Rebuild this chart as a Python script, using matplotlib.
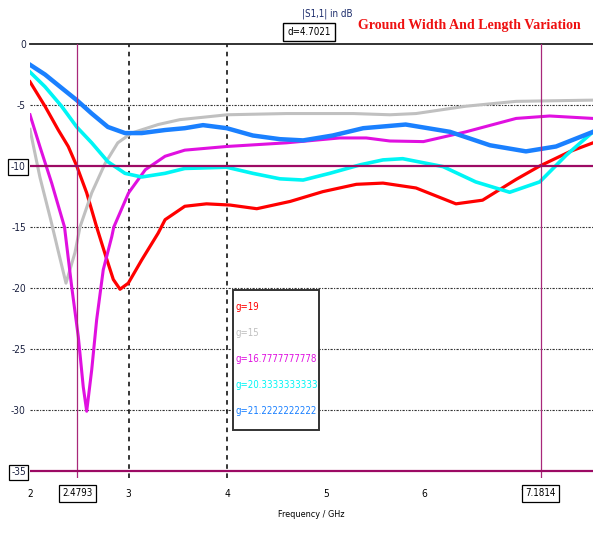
import matplotlib
matplotlib.use("Agg")
import matplotlib.pyplot as plt
from matplotlib.patches import Rectangle

# |S1,1| in dB vs frequency (GHz)
f_g19 = [2.0, 2.152, 2.287, 2.388, 2.474, 2.575, 2.676, 2.761, 2.845, 2.913, 2.997,
         3.133, 3.30, 3.37, 3.57, 3.79, 4.03, 4.30, 4.64, 4.97, 5.31, 5.58, 5.915,
         6.32, 6.59, 6.93, 7.17, 7.48, 7.71]
s_g19 = [-3.1, -5.1, -7.05, -8.4, -10.0, -12.2, -15.0, -17.2, -19.3, -20.1, -19.6,
         -17.7, -15.5, -14.4, -13.3, -13.1, -13.2, -13.5, -12.9, -12.1, -11.5, -11.4, -11.8,
         -13.1, -12.8, -11.1, -10.0, -8.8, -8.1]

f_g15 = [2.0, 2.10, 2.21, 2.29, 2.365, 2.456, 2.507, 2.626, 2.761, 2.89, 3.03, 3.30,
         3.52, 4.0, 4.60, 5.28, 5.65, 5.915, 6.42, 6.93, 7.71]
s_g15 = [-7.0, -10.9, -14.4, -17.1, -19.6, -17.1, -15.0, -12.2, -9.8, -8.1, -7.3, -6.6,
         -6.2, -5.8, -5.7, -5.7, -5.8, -5.7, -5.1, -4.7, -4.6]

f_g16 = [2.0, 2.10, 2.22, 2.35, 2.423, 2.49, 2.54, 2.575, 2.626, 2.676, 2.743, 2.829,
         2.85, 3.0, 3.17, 3.37, 3.57, 3.995, 4.60, 5.14, 5.41, 5.65, 5.99, 6.42, 6.93,
         7.27, 7.71]
s_g16 = [-5.8, -8.4, -11.4, -15.0, -19.9, -24.0, -28.1, -30.1, -26.7, -22.6, -18.5, -15.8,
         -15.0, -12.2, -10.3, -9.2, -8.7, -8.4, -8.1, -7.7, -7.7, -7.95, -8.0, -7.2, -6.1,
         -5.9, -6.1]

f_g20 = [2.0, 2.152, 2.32, 2.474, 2.626, 2.79, 2.963, 3.133, 3.37, 3.57, 3.995, 4.26,
         4.535, 4.77, 5.04, 5.35, 5.58, 5.78, 6.19, 6.52, 6.865, 7.17, 7.44, 7.71]
s_g20 = [-2.3, -3.5, -5.1, -6.8, -8.1, -9.65, -10.6, -10.9, -10.6, -10.2, -10.1, -10.6,
         -11.05, -11.15, -10.6, -9.9, -9.5, -9.4, -10.05, -11.3, -12.15, -11.3, -9.1, -7.2]

f_g21 = [2.0, 2.152, 2.32, 2.474, 2.626, 2.79, 2.963, 3.133, 3.37, 3.57, 3.755, 3.995,
         4.26, 4.535, 4.77, 5.07, 5.38, 5.81, 6.26, 6.665, 7.03, 7.335, 7.71]
s_g21 = [-1.7, -2.5, -3.6, -4.6, -5.7, -6.8, -7.3, -7.3, -7.05, -6.9, -6.65, -6.9,
         -7.5, -7.8, -7.9, -7.5, -6.9, -6.6, -7.2, -8.3, -8.8, -8.4, -7.2]

labels = ["g=19", "g=15", "g=16.7777777778", "g=20.3333333333", "g=21.2222222222"]
colors = ["#ff0000", "#c0c0c0", "#e010e0", "#00f5f5", "#1a80ff"]
widths = [2.3, 2.2, 2.2, 2.6, 3.2]

y_ticks = [0, -5, -10, -15, -20, -25, -30, -35]
x_ticks = [2, 3, 4, 5, 6, 7]
marker_x = [2.4793, 7.1814]
marker_y = [-10, -35]

FONT = dict(family="DejaVu Sans", stretch="condensed")
PURPLE = "#9c0a64"

fig = plt.figure(figsize=(5.93, 5.33), dpi=100)
W, H = 593, 533
ax = fig.add_axes([30 / W, 1 - 478 / H, 563 / W, 434 / H])
ax.set_xlim(2, 7.71)
ax.set_ylim(-35.57, 0)

for sp in ("left", "right", "bottom"):
    ax.spines[sp].set_visible(False)
ax.spines["top"].set_linewidth(1.3)
ax.spines["top"].set_color("#222222")

# grid: fine dotted horizontals, dashed verticals at 3 and 4 GHz
for yv in [-5, -15, -20, -25, -30]:
    ax.axhline(yv, color="#333333", lw=0.8, ls=(0, (2, 1.2, 1, 1.2)), zorder=1)
for xv in [3, 4]:
    ax.axvline(xv, color="black", lw=1.1, ls=(0, (3, 3)), zorder=1)

series = [(f_g19, s_g19), (f_g15, s_g15), (f_g16, s_g16), (f_g20, s_g20), (f_g21, s_g21)]
for (fx, sy), c, w in zip(series, colors, widths):
    ax.plot(fx, sy, color=c, lw=w, solid_joinstyle="round", zorder=3)

# markers
for mx in marker_x:
    ax.axvline(mx, color="#a8287a", lw=0.9, zorder=4)
for my in marker_y:
    ax.axhline(my, color=PURPLE, lw=1.6, zorder=5)

ax.set_yticks(y_ticks)
ax.set_yticklabels([str(v) for v in y_ticks], fontsize=7.3, color="#1a2040", **FONT)
ax.set_xticks(x_ticks)
ax.set_xticklabels([str(v) for v in x_ticks], fontsize=7.3, **FONT)
ax.tick_params(axis="y", length=0, pad=3)
ax.tick_params(axis="x", length=0, pad=8)
for t, v in zip(ax.get_yticklabels(), y_ticks):
    if v in marker_y:
        t.set_bbox(dict(boxstyle="square,pad=0.25", fc="white", ec="black", lw=0.9))

for mx in marker_x:
    ax.text(mx, -0.035, f"{mx:.4f}", transform=ax.get_xaxis_transform(),
            ha="center", va="center", fontsize=7, zorder=6,
            bbox=dict(boxstyle="square,pad=0.35", fc="white", ec="black", lw=0.9), **FONT)

ax.set_xlabel("Frequency / GHz", fontsize=6.5, labelpad=8, **FONT)

# legend box
fig.patches.append(Rectangle((233 / W, 1 - 430 / H), 86 / W, 140 / H,
                             transform=fig.transFigure, fill=True, fc="white",
                             ec="#333333", lw=1.4, zorder=7))
for i, (lab, c) in enumerate(zip(labels, colors)):
    fig.text(236 / W, 1 - (307 + 26 * i) / H, lab, color=c, fontsize=6.9,
             va="center", ha="left", zorder=8, **FONT)

# header
fig.text(302 / W, 1 - 14 / H, "|S1,1| in dB", color="#1a2a6a", fontsize=7,
         va="center", ha="left", **FONT)
fig.text(309 / W, 1 - 32 / H, "d=4.7021", color="black", fontsize=7,
         va="center", ha="center",
         bbox=dict(boxstyle="square,pad=0.4", fc="white", ec="black", lw=1.0), **FONT)
fig.text(358 / W, 1 - 26 / H, "Ground Width And Length Variation", color="#ee1111",
         fontsize=10.1, family="Liberation Serif", weight="bold", va="center", ha="left")

fig.savefig("out.png", dpi=100)
